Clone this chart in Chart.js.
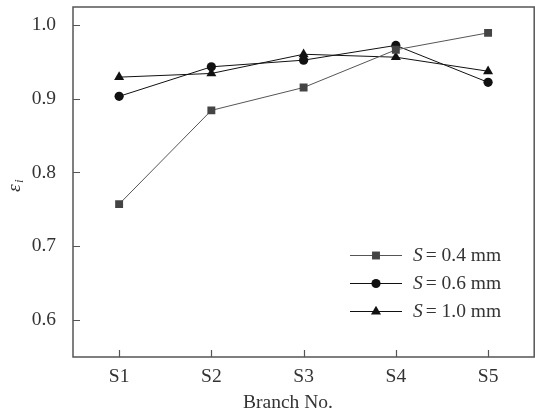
<!DOCTYPE html>
<html>
<head>
<meta charset="utf-8">
<script src="https://cdn.jsdelivr.net/npm/chart.js@4/dist/chart.umd.min.js"></script>
<style>
  html, body { margin: 0; padding: 0; background: #fff; overflow: hidden; }
  #wrap { width: 540px; height: 415px; position: relative; }
</style>
</head>
<body>
<div id="wrap"><canvas id="c"></canvas></div>
<script>
const branches = ['S1', 'S2', 'S3', 'S4', 'S5']
const eps04 = [0.757, 0.884, 0.915, 0.966, 0.989]
const eps06 = [0.903, 0.943, 0.952, 0.972, 0.922]
const eps10 = [0.929, 0.934, 0.960, 0.956, 0.937]
const yTicks = [0.6, 0.7, 0.8, 0.9, 1.0]
const seriesNames = ['0.4', '0.6', '1.0']

const serif = '"Liberation Serif", "DejaVu Serif", serif'
const fs = 19.5
const styles = [
  { pointStyle: 'rect', radius: 5.6, color: '#444', line: '#555' },
  { pointStyle: 'circle', radius: 4.6, color: '#111', line: '#111' },
  { pointStyle: 'triangle', radius: 5.8, color: '#111', line: '#111' },
]

const frame = {
  id: 'frame',
  afterDraw(chart) {
    const { ctx, chartArea: a, scales } = chart
    ctx.save()
    ctx.strokeStyle = '#555'
    ctx.lineWidth = 1.5
    ctx.strokeRect(a.left, a.top, a.right - a.left, a.bottom - a.top)
    ctx.lineWidth = 1.2
    // inward ticks
    ctx.beginPath()
    scales.y.ticks.forEach(t => {
      const y = Math.round(scales.y.getPixelForValue(t.value)) + 0.5
      ctx.moveTo(a.left, y); ctx.lineTo(a.left + 7, y)
    })
    branches.forEach((b, i) => {
      const x = Math.round(scales.x.getPixelForValue(i)) + 0.5
      ctx.moveTo(x, a.bottom); ctx.lineTo(x, a.bottom - 7)
    })
    ctx.stroke()

    // axis titles
    ctx.fillStyle = '#333'
    ctx.textBaseline = 'middle'
    ctx.textAlign = 'center'
    ctx.font = fs + 'px ' + serif
    ctx.fillText('Branch No.', 288, 403)
    ctx.save()
    ctx.translate(15, 186)
    ctx.rotate(-Math.PI / 2)
    ctx.font = 'italic ' + fs + 'px ' + serif
    ctx.textAlign = 'left'
    ctx.fillText('\u03b5', -6, 0)
    ctx.font = 'italic 13px ' + serif
    ctx.fillText('i', 3, 5)
    ctx.restore()

    // legend
    seriesNames.forEach((n, i) => {
      const s = styles[i]
      const y = 255 + i * 28
      ctx.strokeStyle = s.line
      ctx.lineWidth = 1
      ctx.beginPath()
      ctx.moveTo(350, y + 0.5); ctx.lineTo(402, y + 0.5)
      ctx.stroke()
      ctx.fillStyle = s.color
      ctx.strokeStyle = s.color
      Chart.helpers.drawPoint(ctx, { pointStyle: s.pointStyle, radius: s.radius, rotation: 0, borderWidth: 0 }, 376, y + 0.5)
      ctx.fillStyle = '#333'
      ctx.textAlign = 'left'
      ctx.font = 'italic ' + fs + 'px ' + serif
      ctx.fillText('S', 413, y + 1)
      const w = ctx.measureText('S').width
      ctx.font = fs + 'px ' + serif
      ctx.fillText('= ' + n + ' mm', 413 + w + 3, y + 1)
    })
    ctx.restore()
  }
}

const data = [eps04, eps06, eps10]
new Chart(document.getElementById('c'), {
  type: 'line',
  data: {
    labels: branches,
    datasets: data.map((d, i) => ({
      label: 'S = ' + seriesNames[i] + ' mm',
      data: d,
      borderColor: styles[i].line,
      borderWidth: 1,
      backgroundColor: styles[i].color,
      pointStyle: styles[i].pointStyle,
      pointRadius: styles[i].radius,
      pointBorderWidth: 0,
      pointBackgroundColor: styles[i].color,
      tension: 0,
      fill: false,
    })),
  },
  options: {
    responsive: true,
    maintainAspectRatio: false,
    animation: false,
    layout: { padding: { top: 7, right: 4, left: 0, bottom: 0 } },
    plugins: { legend: { display: false }, tooltip: { enabled: false } },
    scales: {
      x: {
        offset: true,
        grid: { display: false },
        border: { display: false },
        ticks: { color: '#333', padding: 0, font: { family: serif, size: fs } },
        afterFit(s) { s.height = 58; s.paddingLeft = 0; s.paddingRight = 0 },
      },
      y: {
        min: 0.55,
        max: 1.024,
        grid: { display: false },
        border: { display: false },
        afterBuildTicks(s) { s.ticks = yTicks.map(v => ({ value: v })) },
        ticks: {
          color: '#333', padding: 9,
          font: { family: serif, size: fs },
          callback: v => v.toFixed(1),
        },
        afterFit(s) { s.width = 73; s.paddingTop = 0; s.paddingBottom = 0 },
      },
    },
  },
  plugins: [frame],
})
</script>
</body>
</html>
